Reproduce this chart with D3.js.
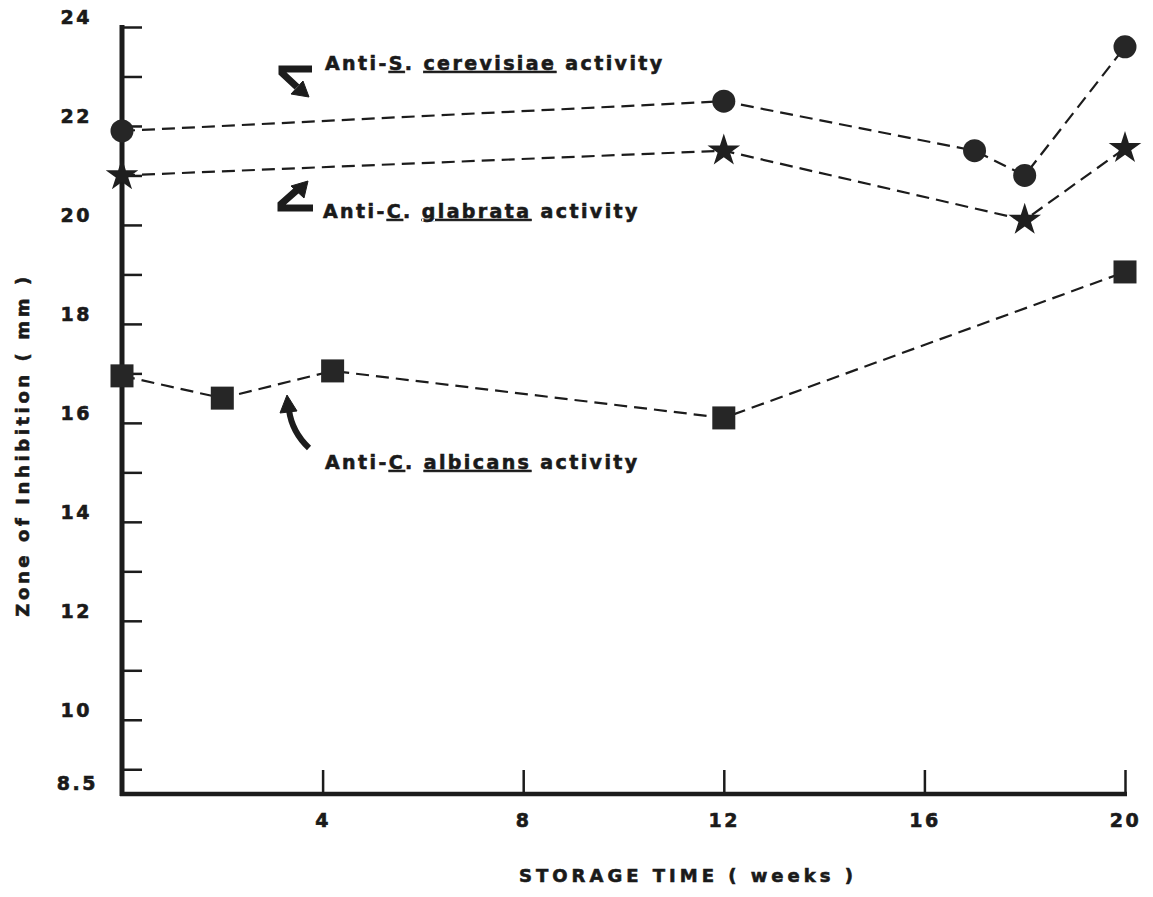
<!DOCTYPE html>
<html><head><meta charset="utf-8">
<script src="https://cdn.jsdelivr.net/npm/d3@7"></script>
<style>
body{margin:0;background:#fff;}
text{font-family:"DejaVu Sans","Liberation Sans",Arial,sans-serif;font-weight:bold;fill:#1a1a1a;stroke:#1a1a1a;stroke-width:0.6px;}
</style></head>
<body><svg id="c" width="1153" height="897"></svg>
<script>
// ---- data ----
const cerevisiaeWeeks = [0, 12, 17, 18, 20];
const cerevisiaeZone  = [21.9, 22.5, 21.5, 21.0, 23.6];
const glabrataWeeks   = [0, 12, 18, 20];
const glabrataZone    = [21.0, 21.5, 20.1, 21.55];
const albicansWeeks   = [0, 2, 4.2, 12, 20];
const albicansZone    = [16.95, 16.5, 17.05, 16.1, 19.05];
const xTickValues = [4, 8, 12, 16, 20];
const yLabelValues = [8.5, 10, 12, 14, 16, 18, 20, 22, 24];
const yMinorTicks = [9,10,11,12,13,14,15,16,17,18,19,20,21,22,23,24];

const FONT = '"DejaVu Sans","Liberation Sans",Arial,sans-serif';
const svg = d3.select("#c");
const x = d3.scaleLinear().domain([0, 20]).range([122, 1125]);
const y = d3.scaleLinear().domain([8.5, 24]).range([794, 27]);
const ink = "#1c1c1c";

// y minor ticks (inward)
const yTicks = svg.append("g").attr("transform", `translate(${x(0)},0)`)
  .call(d3.axisRight(y).tickValues(yMinorTicks).tickSize(20).tickFormat(""));
yTicks.select(".domain").remove();
yTicks.selectAll("line").attr("stroke", ink).attr("stroke-width", 2.5);

// y labels
const yLab = svg.append("g").attr("transform", `translate(92,0)`)
  .call(d3.axisLeft(y).tickValues(yLabelValues).tickSize(0).tickPadding(0)
    .tickFormat(d => d === 8.5 ? "8.5" : d3.format("d")(d)));
yLab.select(".domain").remove();
yLab.selectAll("text").attr("font-size", 19).attr("letter-spacing", 2.5)
  .attr("dy", d => d === 8.5 ? "-0.25em" : "-0.18em")
  .attr("dx", d => d === 8.5 ? 6 : 0)
  .style("font-family", FONT).style("font-weight","bold").attr("fill", ink);

// x axis
const xAx = svg.append("g").attr("transform", `translate(0,${y(8.5)})`)
  .call(d3.axisBottom(x).tickValues(xTickValues).tickSize(-24).tickPadding(20));
xAx.select(".domain").remove();
xAx.selectAll("line").attr("stroke", ink).attr("stroke-width", 2.5);
xAx.selectAll("text").attr("font-size", 19).attr("letter-spacing", 2.5)
  .style("font-family", FONT).style("font-weight","bold").attr("fill", ink);

// axis lines
svg.append("line").attr("x1", x(0)).attr("x2", x(0)).attr("y1", y(24) - 2).attr("y2", y(8.5) + 2)
  .attr("stroke", ink).attr("stroke-width", 5);
svg.append("line").attr("x1", x(0) - 2).attr("x2", x(20) + 2).attr("y1", y(8.5)).attr("y2", y(8.5))
  .attr("stroke", ink).attr("stroke-width", 4.5);

// axis titles
svg.append("text").attr("x", 688).attr("y", 882).attr("text-anchor", "middle")
  .attr("font-size", 18).attr("letter-spacing", 4).text("STORAGE TIME ( weeks )");
svg.append("text").attr("transform", "translate(29,445) rotate(-90)").attr("text-anchor", "middle")
  .attr("font-size", 18).attr("letter-spacing", 3.6).text("Zone of Inhibition ( mm )");

// series
const line = d3.line().x(d => x(d[0])).y(d => y(d[1]));
function series(wk, zn) { return wk.map((w, i) => [w, zn[i]]); }
const sC = series(cerevisiaeWeeks, cerevisiaeZone);
const sG = series(glabrataWeeks, glabrataZone);
const sA = series(albicansWeeks, albicansZone);
[sC, sG, sA].forEach(s => {
  svg.append("path").attr("d", line(s)).attr("fill", "none").attr("stroke", ink)
    .attr("stroke-width", 2.2).attr("stroke-dasharray", "13,7");
});
svg.selectAll(".circ").data(sC).enter().append("circle")
  .attr("cx", d => x(d[0])).attr("cy", d => y(d[1])).attr("r", 11.5).attr("fill", "#262626");
svg.selectAll(".star").data(sG).enter().append("path")
  .attr("transform", d => `translate(${x(d[0])},${y(d[1])})`)
  .attr("d", d3.symbol(d3.symbolStar, 330)).attr("fill", "#1f1f1f");
svg.selectAll(".sq").data(sA).enter().append("rect")
  .attr("x", d => x(d[0]) - 11.5).attr("y", d => y(d[1]) - 11.5)
  .attr("width", 23).attr("height", 23).attr("fill", "#262626");

// annotations
function label(x0, yb, parts) {
  const t = svg.append("text").attr("x", x0).attr("y", yb).attr("font-size", 19).attr("letter-spacing", 2.4);
  parts.forEach(p => t.append("tspan").text(p[0]).attr("text-decoration", p[1] ? "underline" : null));
}
label(325, 70, [["Anti-", 0], ["S", 1], [". ", 0], ["cerevisiae", 1], [" activity", 0]]);
label(323, 218, [["Anti-", 0], ["C", 1], [". ", 0], ["glabrata", 1], [" activity", 0]]);
label(325, 469, [["Anti-", 0], ["C", 1], [". ", 0], ["albicans", 1], [" activity", 0]]);

// arrows
const arr = svg.append("g").attr("fill", ink).attr("stroke", ink);
// S. cerevisiae arrow: bar then down-right
arr.append("path").attr("d", "M312,69 L282,69 L282,73 L297,87").attr("fill", "none").attr("stroke-width", 7);
arr.append("path").attr("d", "M309,97 L291,94 L303,81 Z").attr("stroke-width", 1);
// C. glabrata arrow: bottom bar then up-right
arr.append("path").attr("d", "M313,208 L281,208 L281,204 L297,190").attr("fill", "none").attr("stroke-width", 7);
arr.append("path").attr("d", "M308,181 L304,198 L291,186 Z").attr("stroke-width", 1);
// C. albicans curved arrow
arr.append("path").attr("d", "M309,448 Q292,432 289,410").attr("fill", "none").attr("stroke-width", 6);
arr.append("path").attr("d", "M287,395 L280,413 L297,411 Z").attr("stroke-width", 1);
</script></body></html>
